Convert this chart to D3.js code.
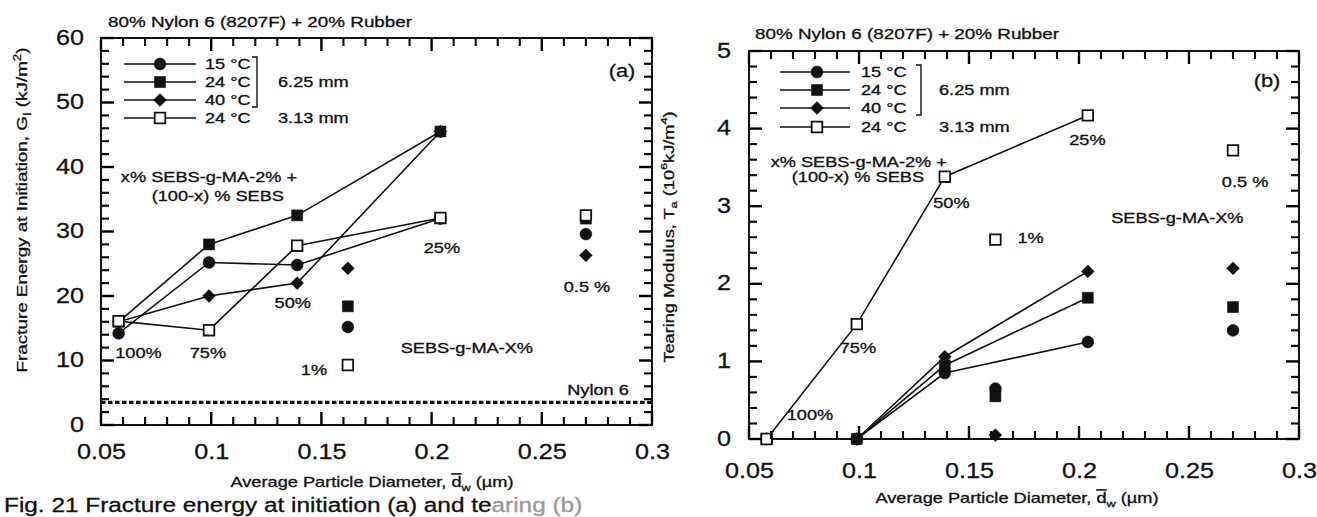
<!DOCTYPE html>
<html>
<head>
<meta charset="utf-8">
<script src="https://cdn.jsdelivr.net/npm/d3@7"></script>
<style>
  html, body { margin: 0; padding: 0; background: #fff; }
  svg { display: block; }
  text { font-family: "Liberation Sans", Arial, Helvetica, sans-serif; fill: #111; stroke: #111; stroke-width: 0.3px; }
</style>
</head>
<body>
<svg id="chart" width="1317" height="517"></svg>
<script>
// ---------------- data ----------------
// Average particle diameter (µm) of the x% SEBS-g-MA-2% + (100-x)% SEBS blends
const blendDiameters = [0.058, 0.099, 0.139, 0.204];
const blendLabels = ["100%", "75%", "50%", "25%"];
// Average particle diameter (µm) of the straight SEBS-g-MA-X% grades
const gradeDiameters = [0.162, 0.27];
const gradeLabels = ["1%", "0.5 %"];

const seriesNames = ["15 °C", "24 °C", "40 °C", "24 °C"];
const thicknessNames = ["6.25 mm", "3.13 mm"];

// (a) fracture energy at initiation, Gi (kJ/m²)
const giBlend15C = [14.2, 25.2, 24.8, 32.0];
const giBlend24C = [16.0, 28.0, 32.5, 45.5];
const giBlend40C = [16.0, 20.0, 22.0, 45.5];
const giBlend24CThin = [16.1, 14.7, 27.8, 32.1];
const giGrade15C = [15.2, 29.6];
const giGrade24C = [18.4, 32.0];
const giGrade40C = [24.3, 26.3];
const giGrade24CThin = [9.3, 32.5];
const giNylon6 = 3.5;

// (b) tearing modulus, Ta (10^6 kJ/m^4)
const taBlend15C = [0, 0, 0.85, 1.25];
const taBlend24C = [0, 0, 0.95, 1.82];
const taBlend40C = [0, 0, 1.06, 2.16];
const taBlend24CThin = [0, 1.48, 3.38, 4.17];
const taGrade15C = [0.65, 1.40];
const taGrade24C = [0.55, 1.70];
const taGrade40C = [0.05, 2.20];
const taGrade24CThin = [2.57, 3.72];

// axis ticks
const xTickValues = [0.05, 0.1, 0.15, 0.2, 0.25, 0.3];
const xTickLabels = ["0.05", "0.1", "0.15", "0.2", "0.25", "0.3"];
const xMinorStep = 0.01;
const giTickValues = [0, 10, 20, 30, 40, 50, 60];
const giTickLabels = ["0", "10", "20", "30", "40", "50", "60"];
const giMinorStep = 2;
const taTickValues = [0, 1, 2, 3, 4, 5];
const taTickLabels = ["0", "1", "2", "3", "4", "5"];
const taMinorStep = 0.2;

// ---------------- drawing ----------------
const svg = d3.select("#chart");
const INK = "#111";

// text helper: the typeface is a wide grotesque, so glyphs are stretched horizontally
function addText(g, parts, x, y, o = {}) {
  const sx = o.sx ?? 1.3;
  const size = o.size ?? 14;
  const t = g.append("text")
    .attr("transform", `translate(${x},${y})` + (o.rotate ? ` rotate(${o.rotate})` : "") + ` scale(${sx},1)`)
    .attr("text-anchor", o.anchor || "start")
    .style("font-size", size + "px");
  if (o.baseline) t.attr("dominant-baseline", o.baseline);
  if (o.fill) t.style("fill", o.fill).style("stroke", o.fill);
  if (typeof parts === "string") { t.text(parts); return t; }
  let shift = 0;
  parts.forEach(p => {
    const want = p.sub ? size * 0.3 : p.sup ? -size * 0.4 : 0;
    const ts = t.append("tspan").attr("dy", want - shift).text(p.t);
    if (p.sub || p.sup) ts.style("font-size", (size * 0.7) + "px");
    if (p.over) ts.style("text-decoration", "overline");
    if (p.fill) ts.style("fill", p.fill).style("stroke", p.fill);
    shift = want;
  });
  return t;
}

const symbolRhomb = {
  draw(ctx, size) {
    const h = Math.sqrt(size / 2);
    ctx.moveTo(0, -h); ctx.lineTo(h, 0); ctx.lineTo(0, h); ctx.lineTo(-h, 0); ctx.closePath();
  }
};
const markerStyles = [
  { type: d3.symbolCircle, size: 110, fill: INK },
  { type: d3.symbolSquare, size: 120, fill: INK },
  { type: symbolRhomb, size: 82, fill: INK },
  { type: d3.symbolSquare, size: 112, fill: "#fff" }
];
function drawMarker(g, s, cx, cy) {
  const m = markerStyles[s];
  g.append("path")
    .attr("d", d3.symbol().type(m.type).size(m.size)())
    .attr("transform", `translate(${cx},${cy})`)
    .attr("fill", m.fill)
    .attr("stroke", INK)
    .attr("stroke-width", s === 3 ? 1.8 : 0.6);
}

const panels = [
  {
    left: 101, right: 652, top: 38, bottom: 425,
    yMax: 60, yMinorStep: giMinorStep, yTickValues: giTickValues, yTickLabels: giTickLabels,
    blends: [giBlend15C, giBlend24C, giBlend40C, giBlend24CThin],
    grades: [giGrade15C, giGrade24C, giGrade40C, giGrade24CThin],
    reference: giNylon6,
    tag: "(a)", tagPos: [622, 70],
    title: { x: 108, y: 27 },
    yTitle: [{ t: "Fracture Energy at Initiation, G" }, { t: "I", sub: true }, { t: " (kJ/m" }, { t: "2", sup: true }, { t: ")" }],
    yTitlePos: [22, 210], yTitleSize: 14.5,
    xTitlePos: [372, 487], xLabelBase: 459, yLabelRight: 84,
    legend: { rows: [64, 82, 100, 118], line: [124, 196], marker: 160, text: 205, bracket: 257, mm: 278 },
    notes: [
      { text: "x% SEBS-g-MA-2% +", x: 0.099, y: 38.4 },
      { text: "(100-x) % SEBS", x: 0.103, y: 35.5 },
      { text: "25%", x: 0.2047, y: 27.4 },
      { text: "0.5 %", x: 0.2705, y: 21.4 },
      { text: "50%", x: 0.137, y: 18.9 },
      { text: "100%", x: 0.067, y: 11.2 },
      { text: "75%", x: 0.0985, y: 11.2 },
      { text: "SEBS-g-MA-X%", x: 0.216, y: 11.9 },
      { text: "1%", x: 0.1466, y: 8.5 },
      { text: "Nylon 6", x: 0.2755, y: 5.4 }
    ]
  },
  {
    left: 749, right: 1299, top: 51, bottom: 439,
    yMax: 5, yMinorStep: taMinorStep, yTickValues: taTickValues, yTickLabels: taTickLabels,
    blends: [taBlend15C, taBlend24C, taBlend40C, taBlend24CThin],
    grades: [taGrade15C, taGrade24C, taGrade40C, taGrade24CThin],
    reference: null,
    tag: "(b)", tagPos: [1267, 80],
    title: { x: 755, y: 39 },
    yTitle: [{ t: "Tearing Modulus, T" }, { t: "a", sub: true }, { t: " (10" }, { t: "6", sup: true }, { t: "kJ/m" }, { t: "4", sup: true }, { t: ")" }],
    yTitlePos: [669, 237], yTitleSize: 14,
    xTitlePos: [1017, 503], xLabelBase: 478, yLabelRight: 731,
    legend: { rows: [72, 90, 108, 127], line: [780, 850], marker: 817, text: 861, bracket: 921, mm: 939 },
    notes: [
      { text: "x% SEBS-g-MA-2% +", x: 0.0999, y: 3.57 },
      { text: "(100-x) % SEBS", x: 0.0995, y: 3.38 },
      { text: "50%", x: 0.142, y: 3.04 },
      { text: "25%", x: 0.2038, y: 3.85 },
      { text: "1%", x: 0.178, y: 2.59 },
      { text: "0.5 %", x: 0.2755, y: 3.31 },
      { text: "SEBS-g-MA-X%", x: 0.2447, y: 2.85 },
      { text: "100%", x: 0.0777, y: 0.31 },
      { text: "75%", x: 0.0995, y: 1.17 }
    ]
  }
];

// tick segments collected from both panels, drawn after everything else
const tickSegments = [];

panels.forEach(p => {
  const g = svg.append("g");
  const x = d3.scaleLinear().domain([0.05, 0.3]).range([p.left, p.right]);
  const y = d3.scaleLinear().domain([0, p.yMax]).range([p.bottom, p.top]);

  // tick labels through d3 axes
  const xLab = g.append("g").attr("transform", `translate(0,${p.bottom})`)
    .call(d3.axisBottom(x).tickValues(xTickValues).tickSize(0).tickFormat((d, i) => xTickLabels[i]));
  xLab.attr("font-family", null).attr("font-size", null);
  xLab.selectAll(".domain").remove();
  xLab.selectAll(".tick text")
    .attr("y", null).attr("dy", null)
    .attr("transform", `translate(0,${p.xLabelBase - p.bottom}) scale(1.12,1)`)
    .style("font-size", "22.5px");

  const yLab = g.append("g").attr("transform", `translate(${p.left},0)`)
    .call(d3.axisLeft(y).tickValues(p.yTickValues).tickSize(0).tickFormat((d, i) => p.yTickLabels[i]));
  yLab.attr("font-family", null).attr("font-size", null);
  yLab.selectAll(".domain").remove();
  yLab.selectAll(".tick text")
    .attr("x", null).attr("dy", "0.36em")
    .attr("transform", `translate(${p.yLabelRight - p.left},-2) scale(1.12,1)`)
    .style("font-size", "22.5px");

  // frame
  g.append("rect")
    .attr("x", p.left).attr("y", p.top)
    .attr("width", p.right - p.left).attr("height", p.bottom - p.top)
    .attr("fill", "none").attr("stroke", INK).attr("stroke-width", 2);

  // neat nylon 6 reference
  if (p.reference !== null) {
    g.append("path")
      .datum([[0.05, p.reference], [0.3, p.reference]])
      .attr("d", d3.line().x(d => x(d[0])).y(d => y(d[1])))
      .attr("stroke", INK).attr("stroke-width", 3.2)
      .attr("stroke-dasharray", "4.5 2.5").attr("fill", "none");
  }

  // connected blend series
  const line = d3.line().x(d => x(d[0])).y(d => y(d[1]));
  p.blends.forEach(vals => {
    g.append("path")
      .datum(vals.map((v, i) => [blendDiameters[i], v]))
      .attr("d", line)
      .attr("fill", "none").attr("stroke", INK).attr("stroke-width", 1.6);
  });

  // markers: filled first, open squares on top
  [0, 1, 2, 3].forEach(s => {
    p.blends[s].forEach((v, i) => drawMarker(g, s, x(blendDiameters[i]), y(v)));
    p.grades[s].forEach((v, i) => drawMarker(g, s, x(gradeDiameters[i]), y(v)));
  });

  // annotations
  p.notes.forEach(n => addText(g, n.text, x(n.x), y(n.y), { anchor: "middle", baseline: "central" }));

  // panel tag and header
  addText(g, p.tag, p.tagPos[0], p.tagPos[1], { anchor: "middle", baseline: "central", size: 19, sx: 1.15 });
  addText(g, "80% Nylon 6 (8207F) + 20% Rubber", p.title.x, p.title.y, { size: 14.5 });

  // axis titles
  addText(g, [{ t: "Average Particle Diameter, " }, { t: "d", over: true }, { t: "w", sub: true }, { t: " (µm)" }],
    p.xTitlePos[0], p.xTitlePos[1], { anchor: "middle", size: 14 });
  addText(g, p.yTitle, p.yTitlePos[0], p.yTitlePos[1],
    { anchor: "middle", rotate: -90, size: p.yTitleSize, baseline: "central" });

  // legend
  const L = p.legend;
  L.rows.forEach((ry, s) => {
    g.append("line").attr("x1", L.line[0]).attr("x2", L.line[1]).attr("y1", ry).attr("y2", ry)
      .attr("stroke", INK).attr("stroke-width", 1.5);
    drawMarker(g, s, L.marker, ry);
    addText(g, seriesNames[s], L.text, ry, { baseline: "central" });
  });
  g.append("path")
    .attr("d", `M${L.bracket - 5},${L.rows[0] - 7}H${L.bracket}V${L.rows[2] + 7}H${L.bracket - 5}`)
    .attr("fill", "none").attr("stroke", INK).attr("stroke-width", 1.4);
  addText(g, thicknessNames[0], L.mm, L.rows[1], { baseline: "central" });
  addText(g, thicknessNames[1], L.mm, L.rows[3], { baseline: "central" });

  // inward tick positions on all four sides, from the scales
  const isMajor = (v, list) => list.some(t => Math.abs(t - v) < 1e-6);
  const nx = Math.round(0.25 / xMinorStep);
  const ny = Math.round(p.yMax / p.yMinorStep);
  d3.range(0, nx + 1).map(i => +(0.05 + i * xMinorStep).toFixed(4)).forEach(v => {
    const len = isMajor(v, xTickValues) ? 13 : 8;
    const w = isMajor(v, xTickValues) ? 2.4 : 2.1;
    const px = x(v);
    tickSegments.push([px, p.bottom, px, p.bottom - len, w]);
    tickSegments.push([px, p.top, px, p.top + len, w]);
  });
  d3.range(0, ny + 1).map(i => +(i * p.yMinorStep).toFixed(4)).forEach(v => {
    const len = isMajor(v, p.yTickValues) ? 13 : 8;
    const w = isMajor(v, p.yTickValues) ? 2.4 : 2.1;
    const py = y(v);
    tickSegments.push([p.left, py, p.left + len, py, w]);
    tickSegments.push([p.right, py, p.right - len, py, w]);
  });
});

// figure caption along the bottom edge
addText(svg, [{ t: "Fig. 21 Fracture energy at initiation (a) and te" }, { t: "aring (b)", fill: "#9a9a9a" }],
  4, 512, { size: 19.5, sx: 1.25 });

// tick marks, on top of the frames
tickSegments.forEach(([x1, y1, x2, y2, w]) => {
  svg.append("line")
    .attr("x1", x1).attr("y1", y1).attr("x2", x2).attr("y2", y2)
    .attr("stroke", "#000").attr("stroke-width", w).attr("stroke-linecap", "butt");
});
</script>
</body>
</html>
